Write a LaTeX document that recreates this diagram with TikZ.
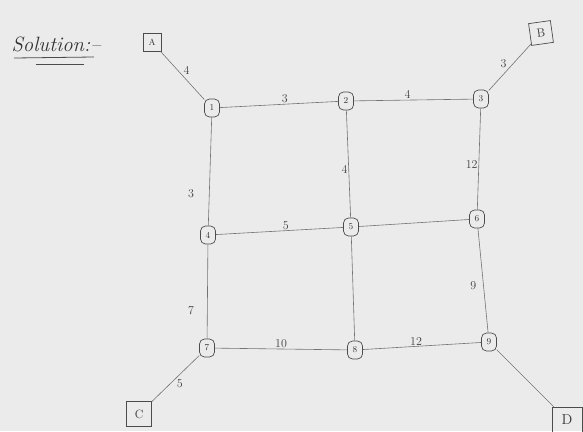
\documentclass[tikz,border=0pt]{standalone}
\usetikzlibrary{calc}
\begin{document}
\begin{tikzpicture}[x=1pt,y=-1pt,
  vert/.style={draw=black!70,rounded corners=5pt,line width=0.7pt,minimum width=15pt,minimum height=18pt,inner sep=0pt,font=\small,text=black!80},
  term/.style={draw=black!70,line width=0.7pt,minimum size=22pt,inner sep=0pt,font=\large,text=black!80},
  edge/.style={draw=black!55,line width=0.6pt},
  wt/.style={font=\large,text=black!75,inner sep=1pt}]
\fill[black!8] (0,0) rectangle (583,431);
\useasboundingbox (0,0) rectangle (583,431);
% title
\node[font=\huge\itshape,text=black!80,anchor=west] (title) at (8,44) {Solution:--};
\draw[black!70,line width=0.8pt] (14,58) -- (94,57);
\draw[black!70,line width=0.8pt] (36,64) -- (84,64);
% terminals
\node[term,minimum size=18pt,font=\small] (A) at (152,42) {A};
\node[term,rotate=8] (B) at (541,33) {B};
\node[term,minimum size=25pt] (C) at (139,414) {C};
\node[term,minimum width=30pt,minimum height=26pt,font=\Large] (D) at (567,420) {D};
% grid nodes
\node[vert] (n1) at (212,108) {1};
\node[vert] (n2) at (346,101) {2};
\node[vert] (n3) at (481,99) {3};
\node[vert] (n4) at (208,235) {4};
\node[vert] (n5) at (351,227) {5};
\node[vert] (n6) at (477,219) {6};
\node[vert] (n7) at (207,348) {7};
\node[vert] (n8) at (355,350) {8};
\node[vert] (n9) at (489,342) {9};
% edges
\draw[edge] (A) -- node[wt,pos=0.5,above right] {4} (n1);
\draw[edge] (n1) -- node[wt,above,pos=0.55] {3} (n2);
\draw[edge] (n2) -- node[wt,above,pos=0.45] {4} (n3);
\draw[edge] (n3) -- node[wt,above left,pos=0.45] {3} (B);
\draw[edge] (n1) -- node[wt,left=14pt,pos=0.7] {3} (n4);
\draw[edge] (n2) -- node[wt,left,pos=0.55] {4} (n5);
\draw[edge] (n3) -- node[wt,left,pos=0.55] {12} (n6);
\draw[edge] (n4) -- node[wt,above,pos=0.55] {5} (n5);
\draw[edge] (n5) -- (n6);
\draw[edge] (n4) -- node[wt,left=12pt,pos=0.7] {7} (n7);
\draw[edge] (n5) -- (n8);
\draw[edge] (n6) -- node[wt,left=6pt,pos=0.55] {9} (n9);
\draw[edge] (n7) -- node[wt,above,pos=0.5] {10} (n8);
\draw[edge] (n8) -- node[wt,above,pos=0.45] {12} (n9);
\draw[edge] (n7) -- node[wt,below right,pos=0.5] {5} (C);
\draw[edge] (n9) -- (D);
\end{tikzpicture}
\end{document}
